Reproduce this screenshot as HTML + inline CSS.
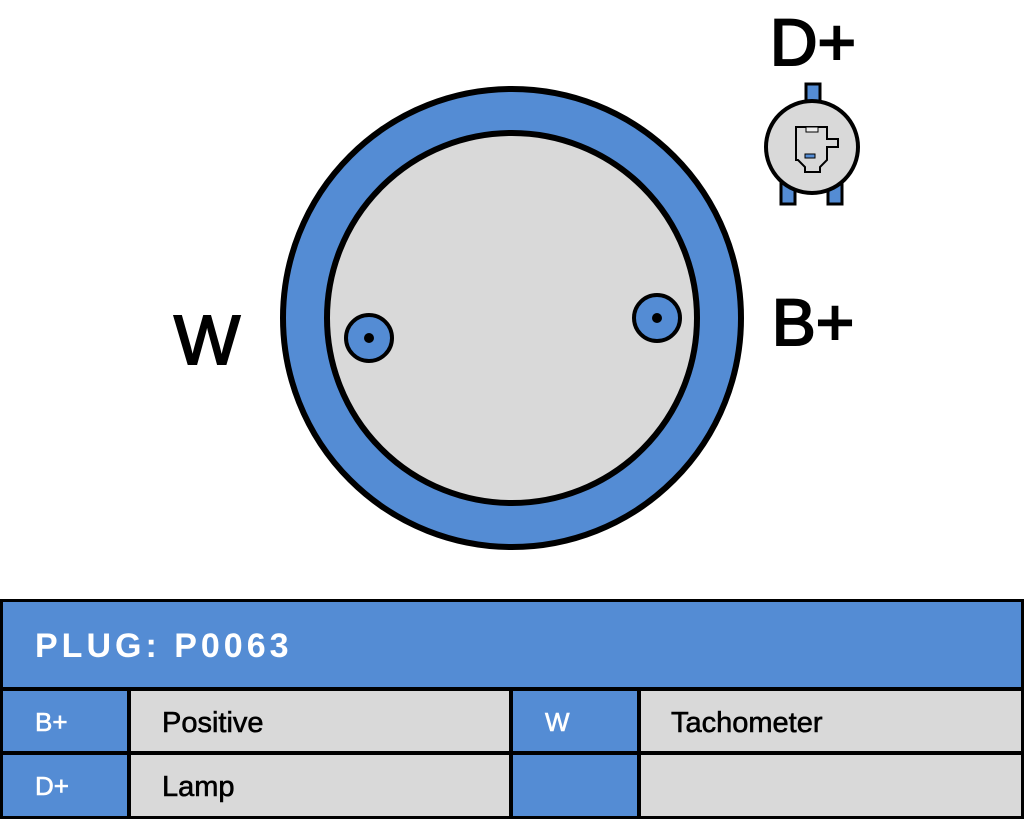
<!DOCTYPE html>
<html><head><style>body{margin:0;background:#fff}svg{display:block}</style></head><body>
<svg width="1024" height="819" viewBox="0 0 1024 819" xmlns="http://www.w3.org/2000/svg" font-family="'Liberation Sans',sans-serif">
<rect width="1024" height="819" fill="#fff"/>
<circle cx="512" cy="318" r="229" fill="#548cd4" stroke="#000" stroke-width="6"/>
<circle cx="512" cy="318" r="185" fill="#d9d9d9" stroke="#000" stroke-width="6"/>
<circle cx="369" cy="338" r="23" fill="#548cd4" stroke="#000" stroke-width="4"/>
<circle cx="369" cy="338" r="5" fill="#000"/>
<circle cx="657" cy="318" r="23" fill="#548cd4" stroke="#000" stroke-width="4"/>
<circle cx="657" cy="318" r="5" fill="#000"/>
<g stroke="#000" stroke-width="2" fill="#000">
<text x="207" y="364" font-size="70" text-anchor="middle">W</text>
<text x="813" y="345" font-size="66" text-anchor="middle">B+</text>
<text x="813" y="65" font-size="66" text-anchor="middle">D+</text>
</g>
<rect x="806" y="84" width="14" height="22" fill="#548cd4" stroke="#000" stroke-width="3"/>
<rect x="781" y="182" width="14" height="22" fill="#548cd4" stroke="#000" stroke-width="3"/>
<rect x="828" y="182" width="14" height="22" fill="#548cd4" stroke="#000" stroke-width="3"/>
<circle cx="812" cy="147" r="46" fill="#d9d9d9" stroke="#000" stroke-width="4"/>
<path d="M796 127 H827 V139 H838 V147 H827 V160 L820 167 V172 H805 V167 L798 160 H796 Z" fill="#d9d9d9" stroke="#000" stroke-width="2"/>
<rect x="806" y="127" width="12" height="5" fill="#eee" stroke="#000" stroke-width="1"/>
<rect x="805" y="154" width="10" height="4" fill="#548cd4" stroke="#000" stroke-width="1"/>
<rect x="0" y="599" width="1024" height="220" fill="#000"/>
<rect x="3" y="602" width="1018" height="85" fill="#548cd4"/>
<text x="35" y="657" font-size="34" font-weight="bold" fill="#fff" letter-spacing="4">PLUG: P0063</text>
<rect x="3" y="691" width="124" height="60" fill="#548cd4"/>
<rect x="131" y="691" width="378" height="60" fill="#d9d9d9"/>
<rect x="513" y="691" width="124" height="60" fill="#548cd4"/>
<rect x="641" y="691" width="380" height="60" fill="#d9d9d9"/>
<rect x="3" y="755" width="124" height="61" fill="#548cd4"/>
<rect x="131" y="755" width="378" height="61" fill="#d9d9d9"/>
<rect x="513" y="755" width="124" height="61" fill="#548cd4"/>
<rect x="641" y="755" width="380" height="61" fill="#d9d9d9"/>
<g fill="#fff" stroke="#fff" stroke-width="0.6" font-size="26">
<text x="35" y="731">B+</text>
<text x="35" y="795">D+</text>
<text x="545" y="731">W</text>
</g>
<g fill="#000" stroke="#000" stroke-width="0.6" font-size="29">
<text x="162" y="732">Positive</text>
<text x="162" y="796">Lamp</text>
<text x="671" y="732">Tachometer</text>
</g>
</svg>
</body></html>
